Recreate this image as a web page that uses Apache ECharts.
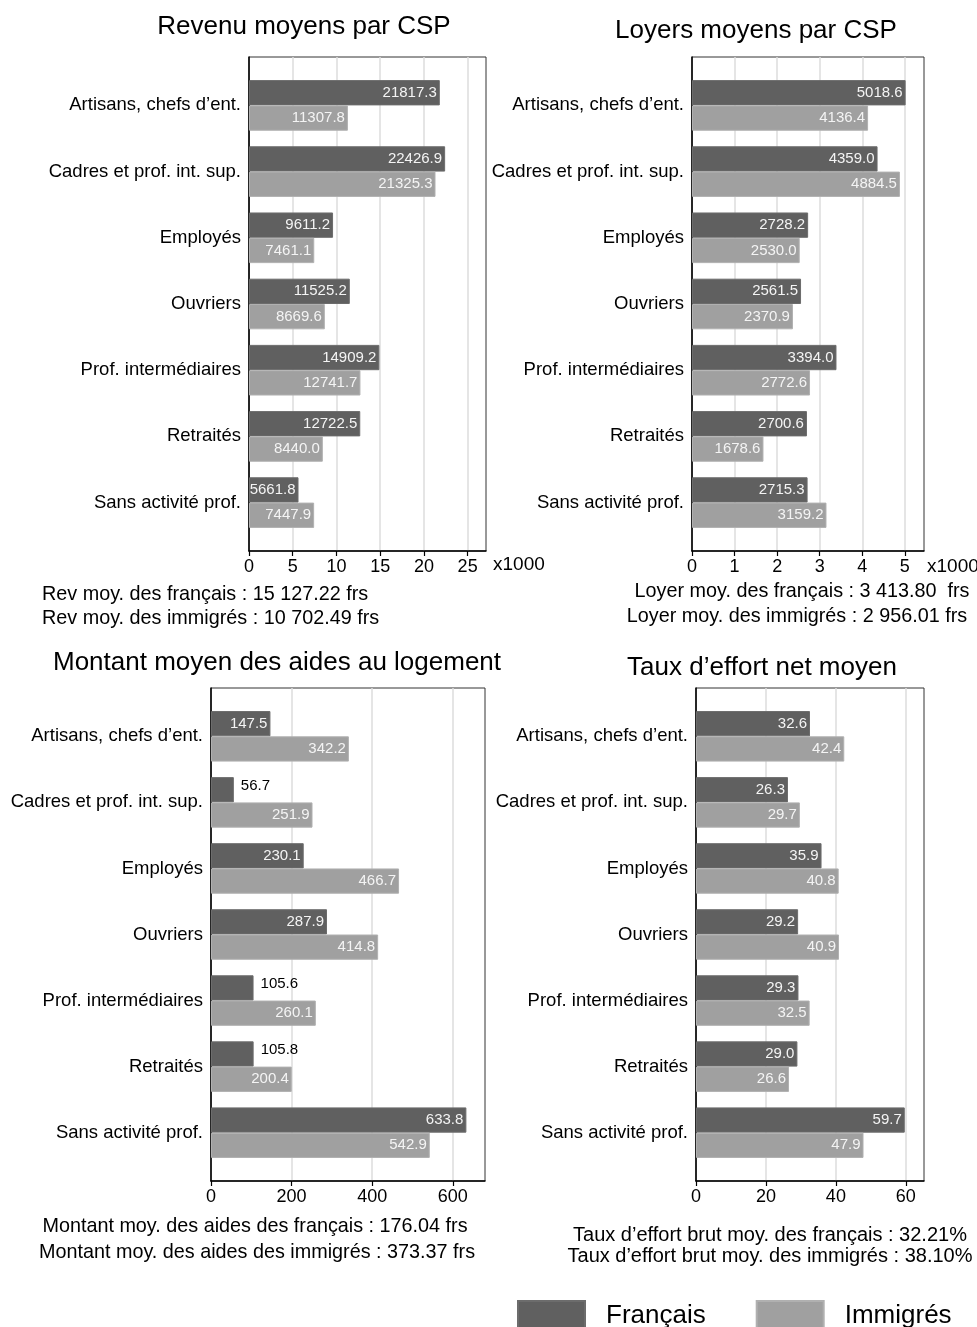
<!DOCTYPE html>
<html>
<head>
<meta charset="utf-8">
<script src="https://cdn.jsdelivr.net/npm/echarts@6/dist/echarts.min.js"></script>
<style>
  html, body { margin: 0; padding: 0; background: #fff; }
  #main { width: 977px; height: 1327px; }
</style>
</head>
<body>
<div id="main"></div>
<script>
var categories = ['Artisans, chefs d\u2019ent.', 'Cadres et prof. int. sup.', 'Employés', 'Ouvriers',
  'Prof. intermédiaires', 'Retraités', 'Sans activité prof.'];

var revenuFrancais = [21817.3, 22426.9, 9611.2, 11525.2, 14909.2, 12722.5, 5661.8];
var revenuImmigres = [11307.8, 21325.3, 7461.1, 8669.6, 12741.7, 8440.0, 7447.9];

var loyerFrancais = [5018.6, 4359.0, 2728.2, 2561.5, 3394.0, 2700.6, 2715.3];
var loyerImmigres = [4136.4, 4884.5, 2530.0, 2370.9, 2772.6, 1678.6, 3159.2];

var aideFrancais = [147.5, 56.7, 230.1, 287.9, 105.6, 105.8, 633.8];
var aideImmigres = [342.2, 251.9, 466.7, 414.8, 260.1, 200.4, 542.9];

var effortFrancais = [32.6, 26.3, 35.9, 29.2, 29.3, 29.0, 59.7];
var effortImmigres = [42.4, 29.7, 40.8, 40.9, 32.5, 26.6, 47.9];

var titles = ['Revenu moyens par CSP', 'Loyers moyens par CSP',
  'Montant moyen des aides au logement', 'Taux d\u2019effort net moyen'];

var notes = [
  ['Rev moy. des français : 15 127.22 frs', 'Rev moy. des immigrés : 10 702.49 frs'],
  ['Loyer moy. des français : 3 413.80  frs', 'Loyer moy. des immigrés : 2 956.01 frs'],
  ['Montant moy. des aides des français : 176.04 frs', 'Montant moy. des aides des immigrés : 373.37 frs'],
  ['Taux d\u2019effort brut moy. des français : 32.21%', 'Taux d\u2019effort brut moy. des immigrés : 38.10%']
];

var FONT = '"Liberation Sans", Arial, Helvetica, sans-serif';
var DARK = '#606060';
var LIGHT = '#a0a0a0';

// one entry per panel: frame box, axis range, tick step, label scale
var panels = [
  { left: 249, top: 57,  width: 237, height: 494, max: 27100, step: 5000, div: 1000, fr: revenuFrancais, im: revenuImmigres },
  { left: 692, top: 57,  width: 232, height: 494, max: 5450,  step: 1000, div: 1000, fr: loyerFrancais,  im: loyerImmigres },
  { left: 211, top: 688, width: 274, height: 493, max: 680,   step: 200,  div: 1,    fr: aideFrancais,   im: aideImmigres },
  { left: 696, top: 688, width: 228, height: 493, max: 65.2,  step: 20,   div: 1,    fr: effortFrancais, im: effortImmigres }
];

var chart = echarts.init(document.getElementById('main'));

var grids = [], xAxes = [], yAxes = [], series = [];

// short bars get their value written outside, in black
function barData(values, max) {
  return values.map(function (v) {
    if (v / max < 0.18) {
      return { value: v, label: { position: 'right', color: '#000', distance: 7, offset: [0, -4] } };
    }
    return v;
  });
}

panels.forEach(function (p, i) {
  var pad = 15.3;
  // frame grid: border, value axis, ticks and grid lines
  grids.push({ left: p.left, top: p.top, width: p.width, height: p.height,
    show: true, borderColor: '#333', borderWidth: 1, backgroundColor: 'transparent' });
  // bar grid, a bit inset from the frame
  grids.push({ left: p.left, top: p.top + pad, width: p.width, height: p.height - 2 * pad });

  xAxes.push({
    type: 'value', gridIndex: 2 * i, min: 0, max: p.max, interval: p.step,
    axisLine: { show: true, lineStyle: { color: '#000', width: 1.5 } },
    axisTick: { show: true, length: 5, lineStyle: { color: '#000', width: 1.2 } },
    axisLabel: { fontFamily: FONT, fontSize: 18, color: '#000', margin: 7, showMaxLabel: false,
      formatter: function (v) { return String(v / p.div); } },
    splitLine: { show: true, showMinLine: false, showMaxLine: false, lineStyle: { color: '#dcdcdc', width: 1.5 } }
  });
  xAxes.push({ type: 'value', gridIndex: 2 * i + 1, min: 0, max: p.max, show: false });

  yAxes.push({
    type: 'value', gridIndex: 2 * i, min: 0, max: 1,
    axisLine: { show: true, lineStyle: { color: '#000', width: 1.5 } },
    axisTick: { show: false }, axisLabel: { show: false }, splitLine: { show: false }
  });
  yAxes.push({
    type: 'category', gridIndex: 2 * i + 1, data: categories, inverse: true,
    axisLine: { show: false }, axisTick: { show: false },
    axisLabel: { fontFamily: FONT, fontSize: 18.5, color: '#000', margin: 8 }
  });

  var labelBase = {
    show: true, position: 'insideRight', distance: 3,
    fontFamily: FONT, fontSize: 15, color: '#f4f4f4',
    formatter: function (d) { return d.value.toFixed(1); }
  };

  series.push({
    name: 'Français', type: 'bar', xAxisIndex: 2 * i + 1, yAxisIndex: 2 * i + 1,
    data: barData(p.fr, p.max), barGap: '0%', barCategoryGap: '23.5%',
    itemStyle: { color: DARK, borderColor: '#6c6c6c', borderWidth: 1 },
    label: labelBase, z: 3
  });
  series.push({
    name: 'Immigrés', type: 'bar', xAxisIndex: 2 * i + 1, yAxisIndex: 2 * i + 1,
    data: barData(p.im, p.max), barGap: '0%', barCategoryGap: '23.5%',
    itemStyle: { color: LIGHT, borderColor: '#b0b0b0', borderWidth: 1 },
    label: labelBase, z: 3
  });
});

function txt(text, x, y, size, align) {
  return { type: 'text', x: x, y: y, silent: true,
    style: { text: text, fontFamily: FONT, fontSize: size, fill: '#000',
      textAlign: align || 'center', textVerticalAlign: 'middle' } };
}

var graphics = [
  txt(titles[0], 304, 27, 26),
  txt(titles[1], 756, 31, 26),
  txt(titles[2], 277, 663, 26),
  txt(titles[3], 762, 668, 26),

  txt('x1000', 493, 565, 19, 'left'),
  txt('x1000', 927, 567, 19, 'left'),

  txt(notes[0][0], 42, 595, 19.8, 'left'),
  txt(notes[0][1], 42, 619, 19.8, 'left'),
  txt(notes[1][0], 802, 592, 19.8),
  txt(notes[1][1], 797, 617, 19.8),
  txt(notes[2][0], 255, 1227, 19.8),
  txt(notes[2][1], 257, 1253, 19.8),
  txt(notes[3][0], 770, 1235, 20),
  txt(notes[3][1], 770, 1256, 20)
];

var option = {
  animation: false,
  backgroundColor: '#fff',
  grid: grids,
  xAxis: xAxes,
  yAxis: yAxes,
  series: series,
  graphic: graphics,
  legend: {
    data: ['Français', 'Immigrés'],
    left: 517, top: 1300, padding: 0,
    itemWidth: 67, itemHeight: 30, itemGap: 50,
    icon: 'rect',
    textStyle: { fontFamily: FONT, fontSize: 26, color: '#000', padding: [0, 0, 0, 16] }
  }
};

chart.setOption(option);
</script>
</body>
</html>
